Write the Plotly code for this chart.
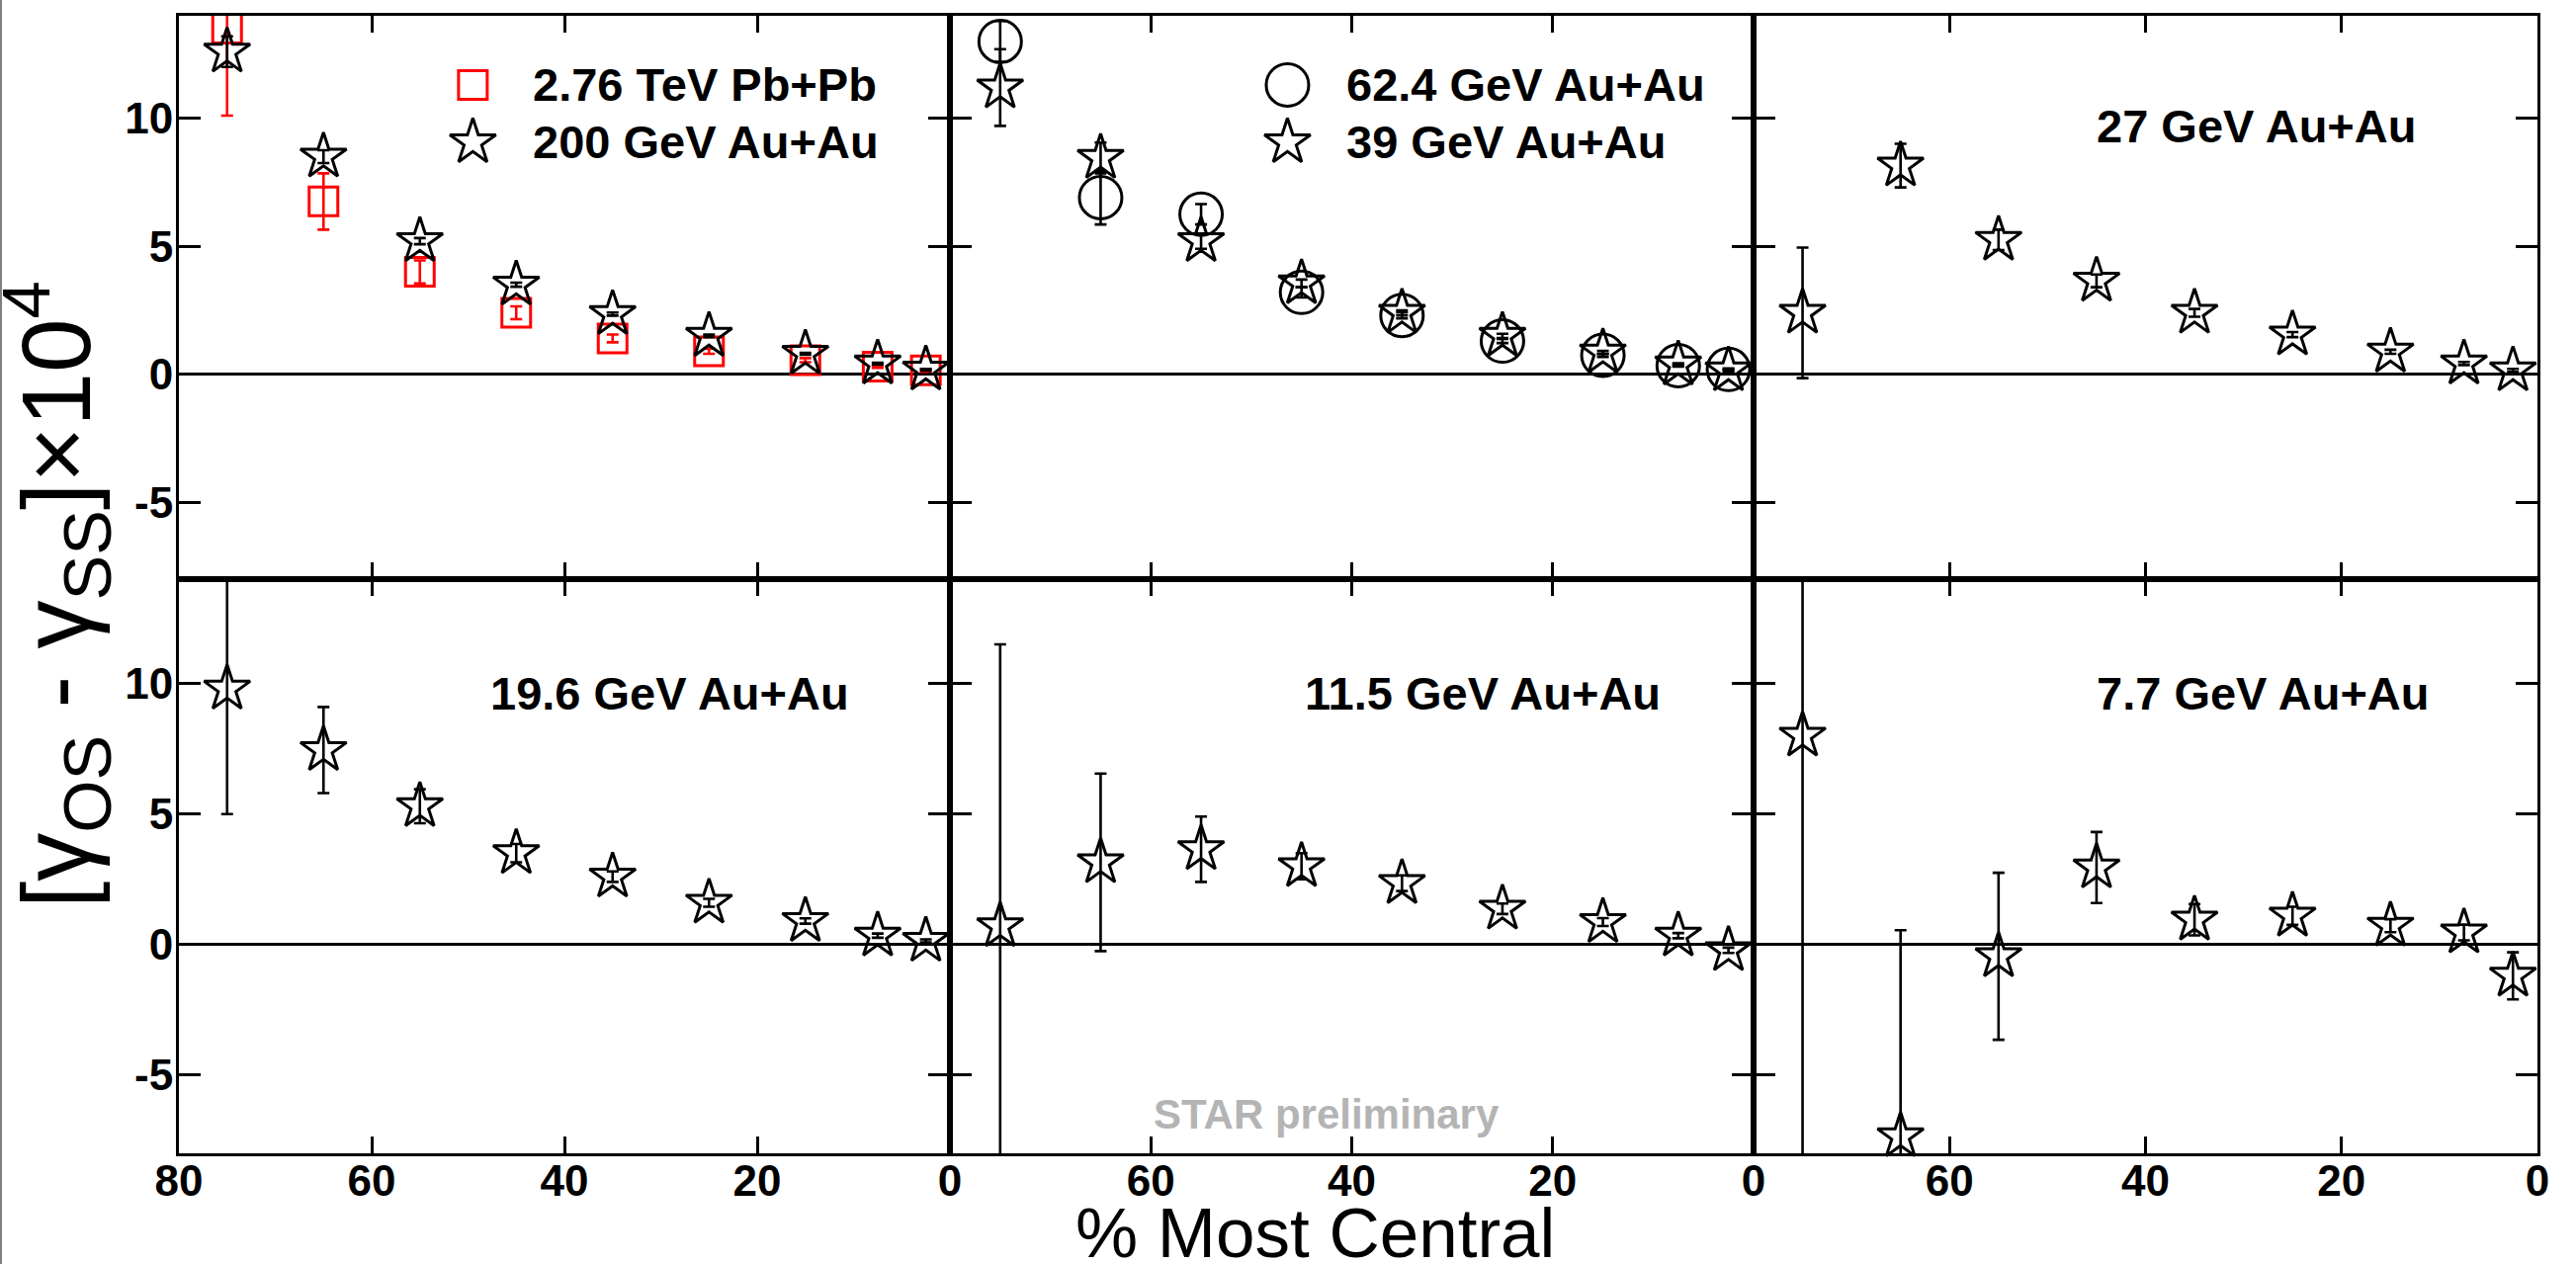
import plotly.graph_objects as go
from plotly.subplots import make_subplots

# ---------------- data (values x 10^4) ----------------
centrality = [75, 65, 55, 45, 35, 25, 15, 7.5, 2.5]

pbpb_2760 = [13.5, 6.75, 4.0, 2.4, 1.4, 0.9, 0.55, 0.3, 0.15]
pbpb_2760_err = [3.4, 1.1, 0.45, 0.25, 0.15, 0.1, 0.08, 0.05, 0.05]
auau_200 = [12.6, 8.5, 5.2, 3.5, 2.35, 1.5, 0.8, 0.42, 0.18]
auau_200_err = [0.6, 0.25, 0.12, 0.08, 0.06, 0.05, 0.04, 0.03, 0.03]
auau_62 = [13.0, 6.9, 6.25, 3.2, 2.3, 1.3, 0.74, 0.34, 0.19]
auau_62_err = [0.8, 1.05, 0.4, 0.2, 0.12, 0.08, 0.06, 0.04, 0.04]
auau_39 = [11.2, 8.45, 5.2, 3.55, 2.4, 1.5, 0.85, 0.38, 0.15]
auau_39_err = [1.5, 0.6, 0.3, 0.15, 0.1, 0.08, 0.06, 0.05, 0.05]
auau_27 = [2.4, 8.15, 5.25, 3.65, 2.4, 1.55, 0.88, 0.42, 0.15]
auau_27_err = [2.55, 0.85, 0.4, 0.25, 0.15, 0.1, 0.08, 0.06, 0.06]
auau_19 = [9.8, 7.45, 5.3, 3.5, 2.6, 1.6, 0.9, 0.34, 0.14]
auau_19_err = [4.8, 1.65, 0.65, 0.35, 0.2, 0.15, 0.1, 0.08, 0.06]
auau_11 = [0.7, 3.15, 3.65, 3.0, 2.35, 1.37, 0.86, 0.34, -0.22]
auau_11_err = [10.8, 3.4, 1.25, 0.5, 0.3, 0.2, 0.15, 0.1, 0.1]
auau_7 = [8.0, -7.35, -0.45, 2.95, 0.95, 1.1, 0.72, 0.46, -1.2]
auau_7_err = [17.0, 7.9, 3.2, 1.36, 0.6, 0.35, 0.25, 0.3, 0.9]

x_tickvals = [80, 60, 40, 20, 0]
x_ticktext_first = ["80", "60", "40", "20", "0"]
x_ticktext_other = [" ", "60", "40", "20", "0"]
y_tickvals = [10, 5, 0, -5]
y_ticktext = ["10", "5", "0", "-5"]

# ---------------- layout / style ----------------
W, H = 2606, 1279
FONT = "Liberation Sans, Arial, Helvetica, sans-serif"
COL_PX = [(181, 961), (961, 1774), (1774, 2567)]
ROW_PX = [(16, 586), (586, 1167)]


def px_x(p):
    return p / W


def px_y(p):
    return 1 - p / H


fig = make_subplots(rows=2, cols=3, horizontal_spacing=0, vertical_spacing=0)

STAR = dict(symbol="star-open", size=35, line=dict(width=3, color="black"), color="black")
SQUARE = dict(symbol="square-open", size=29, line=dict(width=3, color="red"), color="red")
CIRCLE = dict(symbol="circle-open", size=43, line=dict(width=3, color="black"), color="black")


def add_series(row, col, y, err, marker, ecolor):
    # error bars (clipped to panel)
    fig.add_trace(go.Scatter(
        x=centrality, y=y, mode="markers",
        marker=dict(size=1, color="rgba(0,0,0,0)"),
        error_y=dict(type="data", array=err, visible=True, color=ecolor,
                     thickness=2.6, width=6),
        showlegend=False, hoverinfo="skip", cliponaxis=True), row=row, col=col)
    # markers (may overhang the frame slightly)
    fig.add_trace(go.Scatter(
        x=centrality, y=y, mode="markers", marker=marker,
        showlegend=False, cliponaxis=False), row=row, col=col)


add_series(1, 1, pbpb_2760, pbpb_2760_err, SQUARE, "red")
add_series(1, 1, auau_200, auau_200_err, STAR, "black")
add_series(1, 2, auau_62, auau_62_err, CIRCLE, "black")
add_series(1, 2, auau_39, auau_39_err, STAR, "black")
add_series(1, 3, auau_27, auau_27_err, STAR, "black")
add_series(2, 1, auau_19, auau_19_err, STAR, "black")
add_series(2, 2, auau_11, auau_11_err, STAR, "black")
add_series(2, 3, auau_7, auau_7_err, STAR, "black")

# legend glyphs (placed in panel coordinates)
GRAY = "#707070"
legend_glyphs = [
    (1, 1, 49.5, 11.3, dict(SQUARE)),
    (1, 1, 49.5, 9.06, dict(STAR)),
    (1, 2, 46.4, 11.3, dict(CIRCLE, line=dict(width=3, color=GRAY))),
    (1, 2, 46.4, 9.06, dict(STAR, line=dict(width=3, color=GRAY))),
]
for r, c, gx, gy, mk in legend_glyphs:
    fig.add_trace(go.Scatter(x=[gx], y=[gy], mode="markers", marker=mk,
                             showlegend=False, cliponaxis=False), row=r, col=c)

# axes
for r in (1, 2):
    for c in (1, 2, 3):
        idx = (r - 1) * 3 + c
        xname = "xaxis" if idx == 1 else f"xaxis{idx}"
        yname = "yaxis" if idx == 1 else f"yaxis{idx}"
        x0, x1 = COL_PX[c - 1]
        y0, y1 = ROW_PX[r - 1]
        fig.layout[xname].update(
            domain=[px_x(x0), px_x(x1)], range=[80, 0], automargin=False,
            tickvals=x_tickvals,
            ticktext=x_ticktext_first if c == 1 else x_ticktext_other,
            showticklabels=(r == 2), ticklabelstandoff=-13,
            ticks="inside", ticklen=17, tickwidth=3, tickcolor="black",
            showline=True, linewidth=3, linecolor="black", mirror="ticks",
            showgrid=False, zeroline=False,
            tickfont=dict(family=FONT, size=44, color="black", weight="bold"),
        )
        fig.layout[yname].update(
            domain=[px_y(y1), px_y(y0)], range=[-8, 14], automargin=False,
            tickvals=y_tickvals, ticktext=y_ticktext,
            showticklabels=(c == 1), ticklabelstandoff=-6,
            ticks="inside", ticklen=22, tickwidth=3, tickcolor="black",
            showline=True, linewidth=3, linecolor="black", mirror="ticks",
            showgrid=False, zeroline=True, zerolinewidth=3, zerolinecolor="black",
            tickfont=dict(family=FONT, size=44, color="black", weight="bold"),
        )

# panel texts
texts = [
    ("2.76 TeV Pb+Pb", 537, 86, "black", 47),
    ("200 GeV Au+Au", 537, 144, "black", 47),
    ("62.4 GeV Au+Au", 1360, 86, "black", 47),
    ("39 GeV Au+Au", 1360, 144, "black", 47),
    ("27 GeV Au+Au", 2119, 127, "black", 47),
    ("19.6 GeV Au+Au", 494, 701, "black", 47),
    ("11.5 GeV Au+Au", 1318, 701, "black", 47),
    ("7.7 GeV Au+Au", 2119, 701, "black", 47),
    ("STAR preliminary", 1165, 1127, "#b4b4b4", 42),
]
annotations = []
for t, lx, cy, colr, fs in texts:
    annotations.append(dict(
        text=f"<b>{t}</b>", x=px_x(lx), y=px_y(cy), xref="paper", yref="paper",
        xanchor="left", yanchor="middle", showarrow=False,
        font=dict(family=FONT, size=fs, color=colr)))

# axis titles
annotations.append(dict(
    text="% Most Central", x=px_x(1330), y=px_y(1247), xref="paper", yref="paper",
    xanchor="center", yanchor="middle", showarrow=False,
    font=dict(family=FONT, size=71, color="black")))
annotations.append(dict(
    text="[γ<sub>OS</sub> - γ<sub>SS</sub>]×10<sup>4</sup>",
    x=px_x(57), y=px_y(602), xref="paper", yref="paper",
    xanchor="center", yanchor="middle", textangle=-90, showarrow=False,
    font=dict(family=FONT, size=98, color="black")))

fig.update_layout(
    width=W, height=H, autosize=False,
    margin=dict(l=0, r=0, t=0, b=0, autoexpand=False),
    paper_bgcolor="white", plot_bgcolor="white",
    showlegend=False,
    annotations=annotations,
    shapes=[dict(type="line", xref="paper", yref="paper", x0=px_x(1), x1=px_x(1),
                 y0=0, y1=1, line=dict(color="#808080", width=2))],
)

fig.write_html("out.html", config={"displayModeBar": False},
               post_script="document.body.style.margin='0px';")
